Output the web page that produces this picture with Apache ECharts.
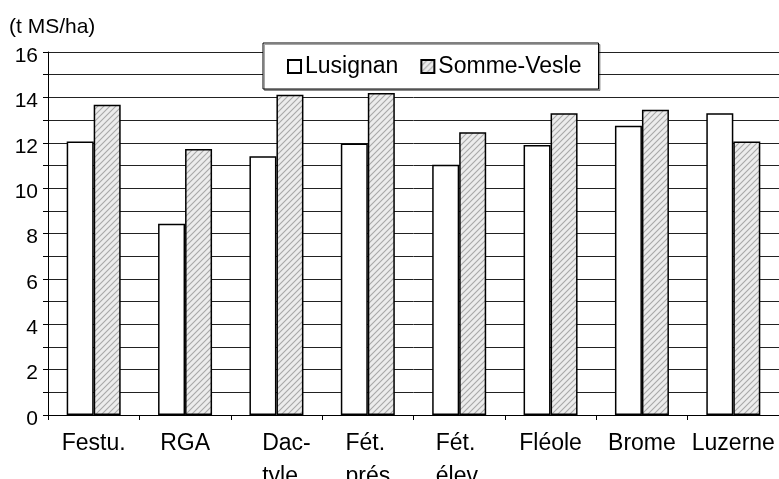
<!DOCTYPE html>
<html>
<head>
<meta charset="utf-8">
<script src="https://cdn.jsdelivr.net/npm/echarts@6/dist/echarts.min.js"></script>
<style>
html,body{margin:0;padding:0;background:#fff;}
#chart{width:779px;height:479px;}
</style>
</head>
<body>
<div id="chart"></div>
<script>
var categories = ['Festu.', 'RGA', 'Dac-\ntyle', 'Fét.\nprés', 'Fét.\nélev.', 'Fléole', 'Brome', 'Luzerne'];
var lusignan = [12.05, 8.43, 11.4, 11.97, 11.03, 11.9, 12.75, 13.3];
var sommeVesle = [13.68, 11.72, 14.12, 14.19, 12.46, 13.3, 13.46, 12.05];
var seriesNames = ['Lusignan', 'Somme-Vesle'];
var yUnit = '(t MS/ha)';

var FONT = '"Liberation Sans", Arial, sans-serif';

function makeHatch() {
  var c = document.createElement('canvas');
  c.width = 6; c.height = 6;
  var g = c.getContext('2d');
  g.fillStyle = '#ececec';
  g.fillRect(0, 0, 6, 6);
  g.strokeStyle = '#a8a8a8';
  g.lineWidth = 1.1;
  g.beginPath();
  g.moveTo(-1, 7); g.lineTo(7, -1);
  g.moveTo(-4, 4); g.lineTo(4, -4);
  g.moveTo(2, 10); g.lineTo(10, 2);
  g.stroke();
  return c;
}
var hatch = makeHatch();

var chart = echarts.init(document.getElementById('chart'), null, {renderer: 'canvas'});
chart.setOption({
  animation: false,
  backgroundColor: '#fff',
  textStyle: {fontFamily: FONT, color: '#000'},
  title: {
    text: yUnit,
    left: 9, top: 17,
    padding: 0,
    textStyle: {fontFamily: FONT, fontSize: 21, fontWeight: 'normal', color: '#000'}
  },
  legend: {
    data: seriesNames,
    left: 263, top: 43,
    padding: [12, 17, 11, 24],
    itemWidth: 13, itemHeight: 13,
    itemGap: 22,
    icon: 'rect',
    backgroundColor: '#fff',
    borderColor: '#000',
    borderWidth: 1,
    shadowColor: 'rgba(0,0,0,0.35)',
    shadowOffsetX: 1.5, shadowOffsetY: 1.5, shadowBlur: 0,
    z: 10,
    textStyle: {fontFamily: FONT, fontSize: 23, color: '#000', padding: [4, 0, 0, -1]}
  },
  grid: {left: 48, right: 0, top: 52, bottom: 64, containLabel: false, outerBoundsMode: 'none'},
  xAxis: {
    type: 'category',
    data: categories,
    boundaryGap: true,
    axisLine: {show: true, lineStyle: {color: '#000', width: 1}},
    axisTick: {show: true, length: 5, lineStyle: {color: '#000'}},
    axisLabel: {
      interval: 0,
      margin: 12,
      fontFamily: FONT, fontSize: 23, color: '#000',
      lineHeight: 33,
      formatter: function (v, i) {
        var lines = v.split('\n');
        var st = (i === 2) ? 'd' : 'l';
        return lines.map(function (s) { return '{' + st + '|' + s + '}'; }).join('\n');
      },
      rich: {
        l: {fontFamily: FONT, fontSize: 23, color: '#000', lineHeight: 33, align: 'left'},
        d: {fontFamily: FONT, fontSize: 23, color: '#000', lineHeight: 33, align: 'left', padding: [0, 0, 0, 20]}
      }
    },
    splitLine: {show: false}
  },
  yAxis: {
    type: 'value',
    min: 0, max: 16, interval: 1,
    axisLine: {show: true, lineStyle: {color: '#000', width: 1}},
    axisTick: {show: true, length: 5, lineStyle: {color: '#000'}},
    axisLabel: {
      margin: 10,
      fontFamily: FONT, fontSize: 21, color: '#000',
      formatter: function (v) { return v % 2 === 0 ? '{y|' + v + '}' : ''; },
      rich: {
        y: {fontFamily: FONT, fontSize: 21, color: '#000', padding: [8, 0, 0, 0]}
      }
    },
    splitLine: {show: true, lineStyle: {color: '#222', width: 1}}
  },
  series: [
    {
      name: seriesNames[0],
      type: 'bar',
      data: lusignan,
      barWidth: 27,
      barGap: '0%',
      itemStyle: {color: '#fff', borderColor: '#000', borderWidth: 1.5}
    },
    {
      name: seriesNames[1],
      type: 'bar',
      data: sommeVesle,
      barWidth: 27,
      barGap: '0%',
      itemStyle: {color: {image: hatch, repeat: 'repeat'}, borderColor: '#000', borderWidth: 1.5}
    }
  ]
});
</script>
</body>
</html>
